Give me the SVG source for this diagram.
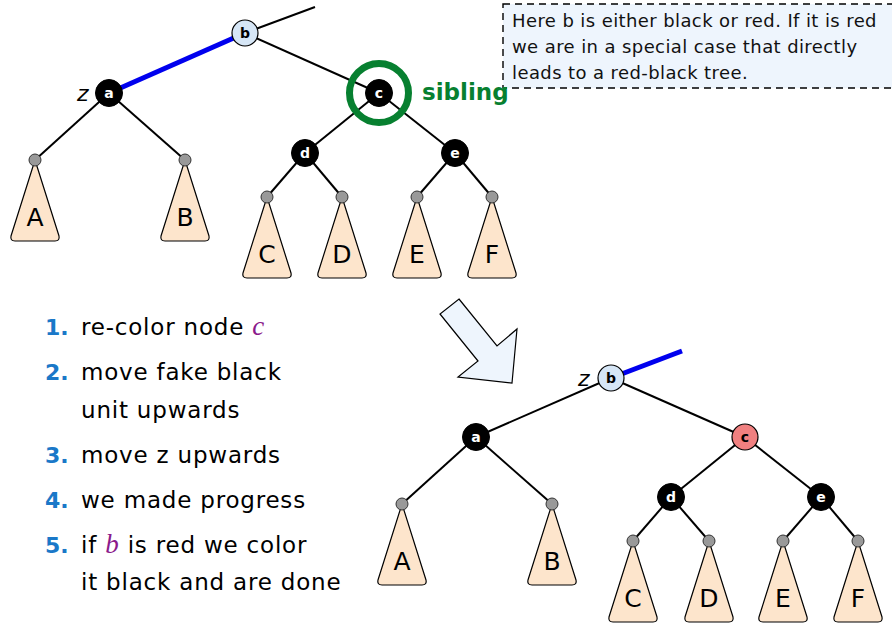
<svg xmlns="http://www.w3.org/2000/svg" width="892" height="629" viewBox="0 0 892 629">
<style>
.edge{stroke:#000;stroke-width:2;fill:none}
.blue{stroke:#0000ee;stroke-width:5;fill:none}
.blk{fill:#000;stroke:#000;stroke-width:1}
.lb{fill:#d6e6f6;stroke:#000;stroke-width:1.2}
.red{fill:#f08080;stroke:#000;stroke-width:1.2}
.leaf{fill:#999;stroke:#333;stroke-width:1}
.tri{fill:#fde5cc;stroke:#000;stroke-width:1.2;stroke-linejoin:round}
.nl{font-family:"DejaVu Sans",sans-serif;font-weight:bold;font-size:14px;text-anchor:middle;fill:#fff}
.nlb{font-family:"DejaVu Sans",sans-serif;font-weight:bold;font-size:14px;text-anchor:middle;fill:#000}
.tl{font-family:"DejaVu Sans",sans-serif;font-size:25px;text-anchor:middle;fill:#000}
.z{font-family:"DejaVu Sans",sans-serif;font-style:italic;font-size:22px;fill:#000}
.note{font-family:"DejaVu Sans",sans-serif;font-size:18px;letter-spacing:0.4px;fill:#111}
.num{font-family:"DejaVu Sans",sans-serif;font-weight:bold;font-size:22px;fill:#1a78c8}
.item{font-family:"DejaVu Sans",sans-serif;font-size:23px;letter-spacing:0.8px;fill:#000}
.var{font-family:"Liberation Serif",serif;font-style:italic;font-size:27px;fill:#8b1a8b}
</style>
<defs>
<path id="tri" d="M0,0 L-24,76 Q-25,81 -20,81 L20,81 Q25,81 24,76 Z" class="tri"/>
</defs>

<g id="note">
<rect x="503" y="4" width="392" height="84" fill="#eef5fd" stroke="#000" stroke-width="1.4" stroke-dasharray="7,5"/>
<text class="note" x="512" y="27">Here b is either black or red. If it is red</text>
<text class="note" x="512" y="53">we are in a special case that directly</text>
<text class="note" x="512" y="79">leads to a red-black tree.</text>
</g>

<g id="connectors">
<line class="edge" x1="245" y1="33" x2="315" y2="7"/>
<line class="edge" x1="245" y1="33" x2="379" y2="93"/>
<line class="blue" x1="109" y1="93" x2="245" y2="33"/>
<line class="edge" x1="109" y1="93" x2="35" y2="160"/>
<line class="edge" x1="109" y1="93" x2="185" y2="160"/>
<line class="edge" x1="379" y1="93" x2="305" y2="153"/>
<line class="edge" x1="379" y1="93" x2="455" y2="153"/>
<line class="edge" x1="305" y1="153" x2="267" y2="197"/>
<line class="edge" x1="305" y1="153" x2="342" y2="197"/>
<line class="edge" x1="455" y1="153" x2="417" y2="197"/>
<line class="edge" x1="455" y1="153" x2="492" y2="197"/>

<line class="blue" x1="611" y1="378" x2="682" y2="351"/>
<line class="edge" x1="611" y1="378" x2="476" y2="437"/>
<line class="edge" x1="611" y1="378" x2="745" y2="437"/>
<line class="edge" x1="476" y1="437" x2="402" y2="504"/>
<line class="edge" x1="476" y1="437" x2="552" y2="504"/>
<line class="edge" x1="745" y1="437" x2="671" y2="497"/>
<line class="edge" x1="745" y1="437" x2="821" y2="497"/>
<line class="edge" x1="671" y1="497" x2="633" y2="541"/>
<line class="edge" x1="671" y1="497" x2="709" y2="541"/>
<line class="edge" x1="821" y1="497" x2="783" y2="541"/>
<line class="edge" x1="821" y1="497" x2="858" y2="541"/>
</g>

<!-- top tree -->
<g id="top-b"><circle class="lb" cx="245" cy="33" r="13"/><text class="nlb" x="245" y="38">b</text></g>
<g id="top-a"><circle class="blk" cx="109" cy="93" r="13.5"/><text class="nl" x="109" y="98">a</text><text class="z" x="77" y="101">z</text></g>
<g id="top-c"><circle class="blk" cx="379" cy="93" r="13.5"/><text class="nl" x="379" y="98">c</text>
<circle cx="379" cy="93" r="29.5" fill="none" stroke="#078030" stroke-width="7"/>
<text x="422" y="100" font-family="DejaVu Sans,sans-serif" font-weight="bold" font-size="23" fill="#078030">sibling</text></g>
<g id="top-d"><circle class="blk" cx="305" cy="153" r="13.5"/><text class="nl" x="305" y="158">d</text></g>
<g id="top-e"><circle class="blk" cx="455" cy="153" r="13.5"/><text class="nl" x="455" y="158">e</text></g>
<g id="top-A"><use href="#tri" x="35" y="160"/><circle class="leaf" cx="35" cy="160" r="6"/><text class="tl" x="35" y="226">A</text></g>
<g id="top-B"><use href="#tri" x="185" y="160"/><circle class="leaf" cx="185" cy="160" r="6"/><text class="tl" x="185" y="226">B</text></g>
<g id="top-C"><use href="#tri" x="267" y="197"/><circle class="leaf" cx="267" cy="197" r="6"/><text class="tl" x="267" y="263">C</text></g>
<g id="top-D"><use href="#tri" x="342" y="197"/><circle class="leaf" cx="342" cy="197" r="6"/><text class="tl" x="342" y="263">D</text></g>
<g id="top-E"><use href="#tri" x="417" y="197"/><circle class="leaf" cx="417" cy="197" r="6"/><text class="tl" x="417" y="263">E</text></g>
<g id="top-F"><use href="#tri" x="492" y="197"/><circle class="leaf" cx="492" cy="197" r="6"/><text class="tl" x="492" y="263">F</text></g>

<g id="arrow">
<polygon points="459,299 497,346 517,329 512,383 458,377 478,361 440,314" fill="#eef5fd" stroke="#000" stroke-width="1.2"/>
</g>

<!-- bottom tree -->
<g id="bot-b"><circle class="lb" cx="611" cy="378" r="13"/><text class="nlb" x="611" y="383">b</text><text class="z" x="578" y="386">z</text></g>
<g id="bot-a"><circle class="blk" cx="476" cy="437" r="13.5"/><text class="nl" x="476" y="442">a</text></g>
<g id="bot-c"><circle class="red" cx="745" cy="437" r="13"/><text class="nlb" x="745" y="442">c</text></g>
<g id="bot-d"><circle class="blk" cx="671" cy="497" r="13.5"/><text class="nl" x="671" y="502">d</text></g>
<g id="bot-e"><circle class="blk" cx="821" cy="497" r="13.5"/><text class="nl" x="821" y="502">e</text></g>
<g id="bot-A"><use href="#tri" x="402" y="504"/><circle class="leaf" cx="402" cy="504" r="6"/><text class="tl" x="402" y="570">A</text></g>
<g id="bot-B"><use href="#tri" x="552" y="504"/><circle class="leaf" cx="552" cy="504" r="6"/><text class="tl" x="552" y="570">B</text></g>
<g id="bot-C"><use href="#tri" x="633" y="541"/><circle class="leaf" cx="633" cy="541" r="6"/><text class="tl" x="633" y="607">C</text></g>
<g id="bot-D"><use href="#tri" x="709" y="541"/><circle class="leaf" cx="709" cy="541" r="6"/><text class="tl" x="709" y="607">D</text></g>
<g id="bot-E"><use href="#tri" x="783" y="541"/><circle class="leaf" cx="783" cy="541" r="6"/><text class="tl" x="783" y="607">E</text></g>
<g id="bot-F"><use href="#tri" x="858" y="541"/><circle class="leaf" cx="858" cy="541" r="6"/><text class="tl" x="858" y="607">F</text></g>

<g id="list">
<text class="num" x="45" y="335">1.</text><text class="item" x="81" y="335">re-color node <tspan class="var">c</tspan></text>
<text class="num" x="45" y="380">2.</text><text class="item" x="81" y="380">move fake black</text>
<text class="item" x="81" y="418">unit upwards</text>
<text class="num" x="45" y="463">3.</text><text class="item" x="81" y="463">move z upwards</text>
<text class="num" x="45" y="508">4.</text><text class="item" x="81" y="508">we made progress</text>
<text class="num" x="45" y="553">5.</text><text class="item" x="81" y="553">if <tspan class="var">b</tspan> is red we color</text>
<text class="item" x="81" y="590">it black and are done</text>
</g>
</svg>
